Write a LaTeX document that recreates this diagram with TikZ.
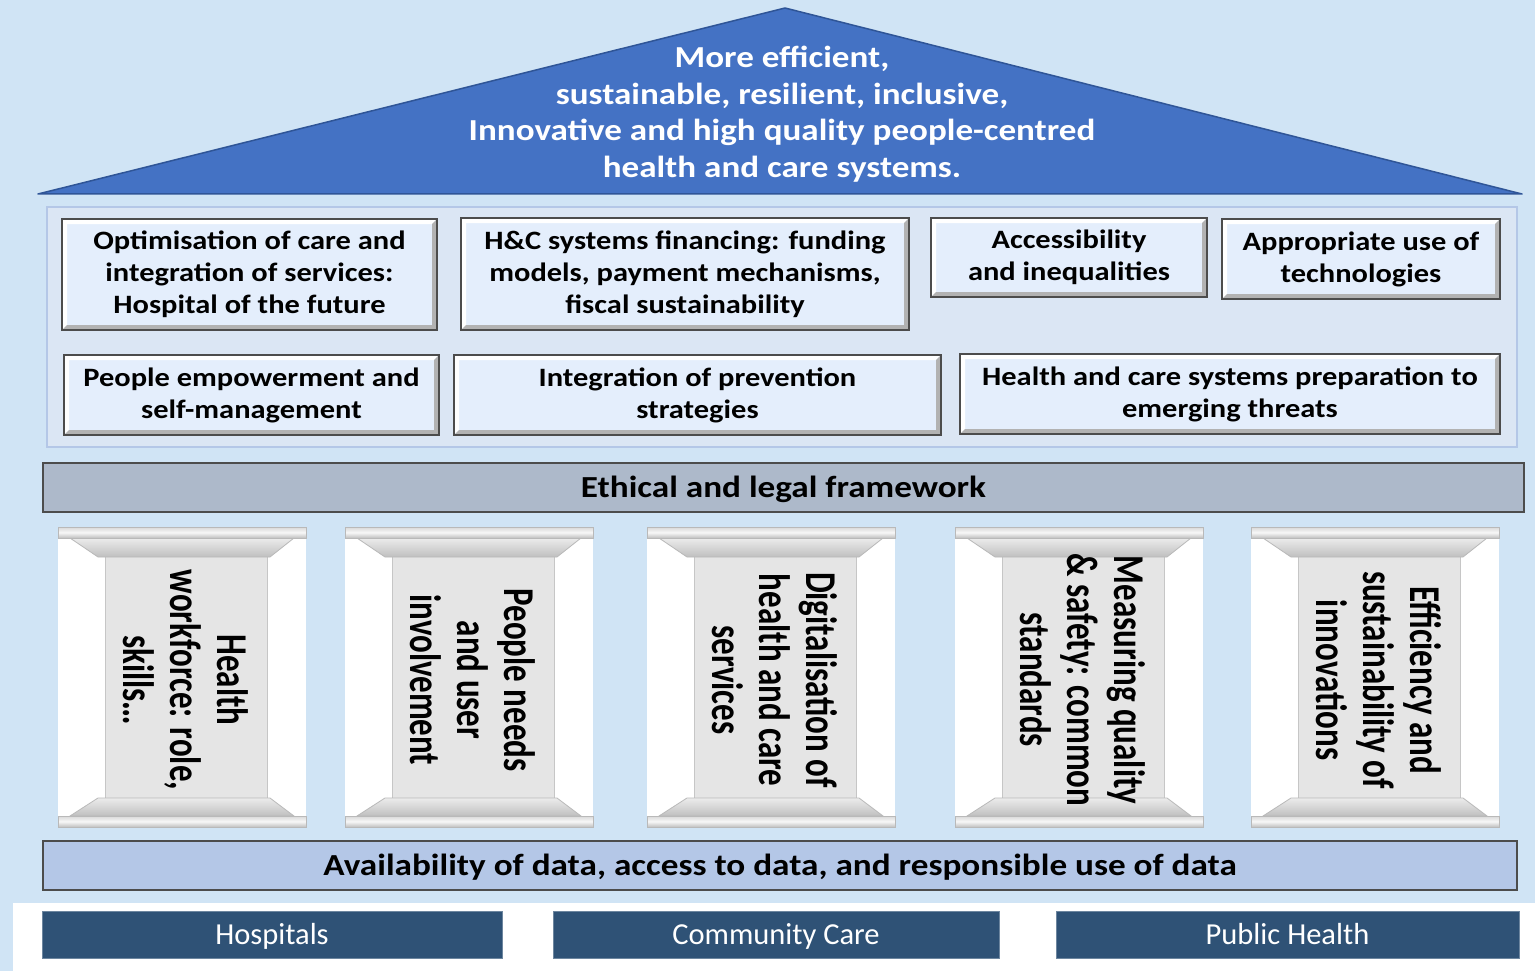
\documentclass[tikz,border=0pt]{standalone}
\usepackage{fontspec}
\setmainfont{Carlito}
\newfontfamily\widefont[FakeStretch=1.15]{Carlito}
\newfontfamily\narrowfont[FakeStretch=0.75]{Carlito}
\usetikzlibrary{positioning}

\definecolor{skyback}{RGB}{208,228,245}
\definecolor{roofblue}{RGB}{68,114,196}
\definecolor{roofline}{RGB}{47,85,151}
\definecolor{panelfill}{RGB}{219,230,244}
\definecolor{panelline}{RGB}{180,199,231}
\definecolor{topicfill}{RGB}{228,238,252}
\definecolor{ethicfill}{RGB}{173,185,202}
\definecolor{datafill}{RGB}{180,199,231}
\definecolor{sectorfill}{RGB}{47,82,118}

\tikzset{
  bevel/.style={path picture={
    \fill[white] (path picture bounding box.north west) -- (path picture bounding box.north east)
      -- ([shift={(-5pt,-5pt)}]path picture bounding box.north east) -- ([shift={(5pt,-5pt)}]path picture bounding box.north west)
      -- ([shift={(5pt,5pt)}]path picture bounding box.south west) -- (path picture bounding box.south west) -- cycle;
    \fill[gray!60] (path picture bounding box.south east) -- (path picture bounding box.south west)
      -- ([shift={(5pt,5pt)}]path picture bounding box.south west) -- ([shift={(-5pt,5pt)}]path picture bounding box.south east)
      -- ([shift={(-5pt,-5pt)}]path picture bounding box.north east) -- (path picture bounding box.north east) -- cycle;
  }},
  topic/.style={draw=black!70, line width=2pt, fill=topicfill, bevel, align=center, inner sep=0pt,
    font=\widefont\bfseries\fontsize{26.5}{32}\selectfont},
  band/.style={draw=black!70, line width=2pt, minimum height=49pt, inner sep=0pt,
    text height=25pt, text depth=5.5pt,
    font=\widefont\bfseries\fontsize{30.6}{36}\selectfont},
  sector/.style={fill=sectorfill, draw=sectorfill!70, line width=1pt, minimum height=47pt, inner sep=0pt,
    text height=24pt, text depth=4pt,
    text=white, font=\fontsize{30.5}{34}\selectfont},
  slab/.style={top color=gray!30, bottom color=gray!50, middle color=gray!6, draw=gray!55, line width=0.8pt},
  bevelcap/.style={top color=gray!15, bottom color=gray!50, draw=gray!55, line width=0.8pt},
  shaft/.style={fill=gray!20, draw=gray!45, line width=1pt},
  pillartext/.style={rotate=-90, align=center, inner sep=0pt,
    font=\narrowfont\bfseries\fontsize{44}{47}\selectfont}
}

\begin{document}
\begin{tikzpicture}[x=1pt,y=-1pt]
  \useasboundingbox (0,0) rectangle (1535,971);
  \fill[skyback] (0,0) rectangle (1535,971);

  % roof
  \coordinate (eave-l) at (38,194);
  \coordinate (apex) at (785,8);
  \coordinate (eave-r) at (1522,194);
  \filldraw[fill=roofblue, draw=roofline, line width=1.5pt, line join=round] (eave-l) -- (apex) -- (eave-r) -- cycle;
  \node[text=white, align=center, font=\widefont\bfseries\fontsize{30.5}{36.5}\selectfont] (goal) at (782,114)
    {More efficient,\\sustainable, resilient, inclusive,\\Innovative and high quality people-centred\\health and care systems.};

  % priorities
  \draw[panelline, fill=panelfill, line width=1.5pt] (47,207) rectangle (1517,447);
  \node[topic, minimum width=375pt, minimum height=111pt] (hosp-future) at (249.5,274.5)
    {Optimisation of care and\\integration of services:\\Hospital of the future};
  \node[topic, minimum width=448pt, minimum height=112pt] (financing) at (685,274)
    {H\&C systems financing: funding\\models, payment mechanisms,\\fiscal sustainability};
  \node[topic, minimum width=276pt, minimum height=79pt] (access) at (1069,257.5)
    {Accessibility\\and inequalities};
  \node[topic, minimum width=278pt, minimum height=80pt] (tech) at (1361,259)
    {Appropriate use of\\technologies};
  \node[topic, minimum width=375pt, minimum height=80pt] (empower) at (251.5,395)
    {People empowerment and\\self-management};
  \node[topic, minimum width=487pt, minimum height=80pt] (prevent) at (697.5,395)
    {Integration of prevention\\strategies};
  \node[topic, minimum width=540pt, minimum height=80pt] (threats) at (1230,394)
    {Health and care systems preparation to\\emerging threats};

  \node[band, fill=ethicfill, minimum width=1481pt] (ethics) at (783.5,487.5) {Ethical and legal framework};

  % pillars
  \foreach \px/\pname/\ptext in {58/workforce/{Health\\workforce: role,\\skills…},
      345/needs/{People needs\\and user\\involvement},
      647/digital/{Digitalisation of\\health and care\\services},
      955/quality/{Measuring quality\\\& safety: common\\standards},
      1251/innov/{Efficiency and\\sustainability of\\innovations}} {
    \fill[white] (\px,538) rectangle ++(248,278);
    \draw[shaft] (\px+47,556) rectangle (\px+209,799);
    \shade[bevelcap] (\px+12,538) -- (\px+236,538) -- (\px+212,557) -- (\px+40,557) -- cycle;
    \shade[slab] (\px,527) rectangle ++(248,11);
    \shade[bevelcap] (\px+40,798) -- (\px+212,798) -- (\px+236,816) -- (\px+12,816) -- cycle;
    \shade[slab] (\px,816) rectangle ++(248,11);
    \node[pillartext] (\pname) at (\px+128,680) {\ptext};
  }

  \node[band, fill=datafill, minimum width=1474pt] (data) at (780,865.5)
    {Availability of data, access to data, and responsible use of data};

  % sectors
  \fill[white] (13,903) rectangle (1535,971);
  \node[sector, minimum width=460pt] (hospitals) at (272,934.5) {Hospitals};
  \node[sector, minimum width=446pt] (community) at (776,934.5) {Community Care};
  \node[sector, minimum width=463pt] (public) at (1287.5,934.5) {Public Health};
\end{tikzpicture}
\end{document}
